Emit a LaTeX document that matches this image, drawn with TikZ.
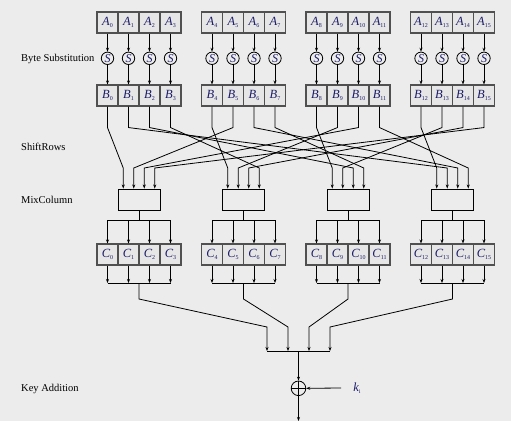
\documentclass[tikz,border=0pt]{standalone}
\usepackage{fontspec}
\setmainfont{Liberation Serif}
\usetikzlibrary{arrows.meta}
\definecolor{bgcol}{RGB}{236,236,236}
\definecolor{cellcol}{RGB}{230,230,230}
\definecolor{framecol}{RGB}{80,80,80}
\definecolor{symcol}{RGB}{30,30,105}
\newcommand{\sym}[2]{{\itshape #1}\raisebox{-1.8pt}{\fontsize{6}{6}\selectfont #2}}
\tikzset{
  cell/.style={draw=framecol, line width=1.1pt, fill=cellcol, minimum width=21pt, minimum height=21pt, inner sep=0pt, text=symcol, font=\fontsize{12.5}{13}\selectfont},
  sbox/.style={circle, draw=black, line width=0.8pt, minimum size=12.4pt, inner sep=0pt, text=symcol, font=\fontsize{12}{12}\selectfont\itshape},
  mixbox/.style={draw=black, line width=0.9pt, minimum width=42pt, minimum height=21pt},
  arr/.style={-{Stealth[length=4pt,width=3pt]}, line width=0.8pt},
  line/.style={line width=0.8pt},
  lbl/.style={anchor=west, inner sep=0pt, font=\fontsize{10.5}{12}\selectfont},
}

\begin{document}
\begin{tikzpicture}[x=1pt,y=-1pt]
		%%%%% START %%%%%
		\fill[bgcol] (0,0) rectangle (511,421);
		
		\node[lbl] (lsub) at (21,59) {Byte Substitution};
		\node[lbl] (lshift) at (21,147) {ShiftRows};
		\node[lbl] (lmix) at (21,200) {MixColumn};
		\node[lbl] (lkey) at (21,389) {Key Addition};
		
		% state bytes and S-boxes
		\foreach \g in {0,...,3}{
			\foreach \k in {0,...,3}{
				\pgfmathtruncatemacro\i{4*\g+\k}
				\pgfmathsetmacro\xc{107.5+104.5*\g+21*\k}
				\node[cell] (a\i) at (\xc,22.5) {\sym{A}{\i}};
				\node[sbox] (s\i) at (\xc,58.3) {S};
				\node[cell] (b\i) at (\xc,95.5) {\sym{B}{\i}};
				\node[cell] (c\i) at (\xc,254.5) {\sym{C}{\i}};
				\draw[arr] (a\i) -- (s\i);
				\draw[arr] (s\i) -- (b\i);
			}
		}
		
		\foreach \j in {0,...,3}
			\node[mixbox] (m\j) at (139+104.5*\j,199.5) {};
		
		% shift rows
		\foreach \g in {0,...,3}{
			\foreach \r in {0,...,3}{
				\pgfmathtruncatemacro\i{4*\g+\r}
				\pgfmathtruncatemacro\j{mod(\g-\r+4,4)}
				\pgfmathsetmacro\xin{139+104.5*\j+10.5*(\r-1.5)}
				\coordinate (in\i) at (\xin,168);
				\draw[arr] (b\i.south) -- ++(0,21) -- (in\i) -- (in\i |- m\j.north);
			}
		}
		
		% mix column outputs and collecting bars
		\foreach \j/\f in {0/267,1/288,2/309,3/330}{
			\pgfmathtruncatemacro\first{4*\j}
			\pgfmathtruncatemacro\last{4*\j+3}
			\coordinate (u\j) at (139+104.5*\j,283);
			\coordinate (w\j) at (\f,327);
			\coordinate (v\j) at (\f,351);
			\foreach \r in {0,...,3}{
				\pgfmathtruncatemacro\i{4*\j+\r}
				\draw[arr] (m\j.south) -- ++(0,10) -| (c\i.north);
				\draw[arr] (c\i.south) -- (c\i.south |- u\j);
			}
			\draw[line] (c\first.south |- u\j) -- (c\last.south |- u\j);
			\draw[arr] (u\j) -- ++(0,16) -- (w\j) -- (v\j);
		}
		
		% key addition
		\draw[line] (v0) -- (v3);
		\coordinate (kbar) at (298.5,351);
		\node[circle, draw=black, line width=0.8pt, minimum size=14.6pt, inner sep=0pt] (xor) at (298.5,388.3) {};
		\draw[line] (xor.north) -- (xor.south) (xor.west) -- (xor.east);
		\draw[arr] (kbar) -- (xor.north);
		\draw[arr] (xor.south) -- ++(0,25) coordinate (out);
		\node[text=symcol, font=\fontsize{12.5}{13}\selectfont] (key) at (357,388) {\sym{k}{i}};
		\coordinate (kin) at (341,388);
		\draw[arr] (kin) -- (xor.east);
		%%%%% END %%%%%
\end{tikzpicture}
\end{document}
